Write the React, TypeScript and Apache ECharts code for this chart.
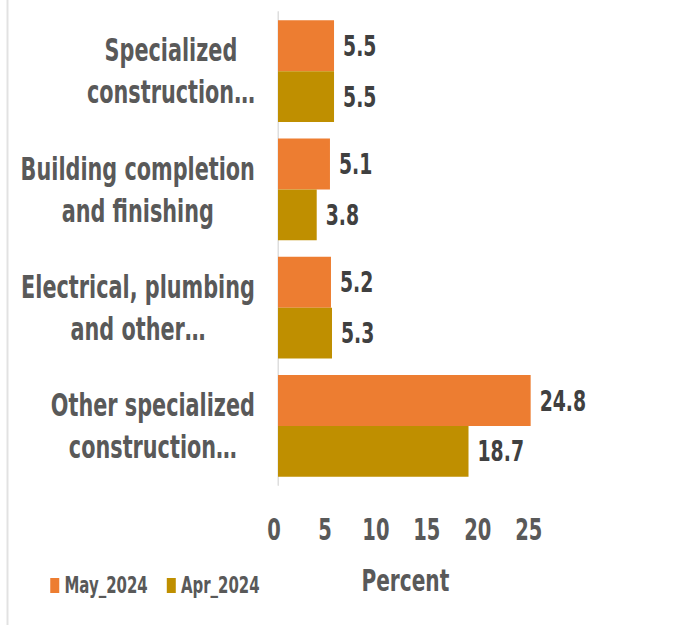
import React, { useEffect, useRef } from "react";
import * as echarts from "echarts";

const categories = [
  "Specialized\nconstruction…",
  "Building completion\nand finishing",
  "Electrical, plumbing\nand other…",
  "Other specialized\nconstruction…",
];
const may2024 = [5.5, 5.1, 5.2, 24.8];
const apr2024 = [5.5, 3.8, 5.3, 18.7];
const seriesNames = ["May_2024", "Apr_2024"];
const xTicks = { min: 0, max: 25, interval: 5 };

// The reference is rendered horizontally compressed; draw wide and squeeze.
const S = 0.65;
const PAGE_W = 688;
const PAGE_H = 625;
const W = PAGE_W / S;
const ux = (x: number) => x / S;

const FONT = "'DejaVu Sans', sans-serif";

export default function App() {
  const ref = useRef<HTMLDivElement>(null);
  useEffect(() => {
    if (!ref.current) return;
    const chart = echarts.init(ref.current, null, { renderer: "svg" });
    const valueLabel = {
      show: true,
      position: "right",
      distance: ux(9),
      fontFamily: FONT,
      fontSize: 29,
      fontWeight: "bold",
      color: "#404040",
    };
    chart.setOption({
      animation: false,
      backgroundColor: "#ffffff",
      grid: {
        left: ux(278),
        right: W - ux(533),
        top: 12,
        height: 473,
        containLabel: false,
        outerBoundsMode: "none",
      },
      legend: {
        data: seriesNames,
        left: ux(47),
        top: 569,
        icon: "rect",
        itemWidth: ux(9),
        itemHeight: 15,
        itemGap: ux(19),
        textStyle: {
          fontFamily: FONT,
          fontSize: 23,
          fontWeight: "bold",
          color: "#595959",
          padding: [0, 0, 0, 3],
        },
      },
      xAxis: {
        type: "value",
        min: xTicks.min,
        max: xTicks.max,
        interval: xTicks.interval,
        name: "Percent",
        nameLocation: "middle",
        nameGap: 80,
        nameTextStyle: { fontFamily: FONT, fontSize: 31, fontWeight: "bold", color: "#595959" },
        axisLine: { show: false },
        axisTick: { show: false },
        splitLine: { show: false },
        axisLabel: {
          fontFamily: FONT,
          fontSize: 30,
          fontWeight: "bold",
          color: "#595959",
          margin: 30,
          padding: [0, ux(8), 0, 0],
        },
      },
      yAxis: {
        type: "category",
        data: categories,
        inverse: true,
        axisLine: { show: true, lineStyle: { color: "#d9d9d9", width: 2 } },
        axisTick: { show: false },
        axisLabel: {
          margin: ux(23),
          formatter: (v: string) =>
            v
              .split("\n")
              .map((l) => `{a|${l}}`)
              .join("\n"),
          rich: {
            a: {
              fontFamily: FONT,
              fontSize: 32,
              fontWeight: "bold",
              color: "#595959",
              align: "center",
              lineHeight: 42,
            },
          },
        },
      },
      series: [
        {
          name: seriesNames[0],
          type: "bar",
          data: may2024,
          barGap: "0%",
          barCategoryGap: "14%",
          itemStyle: { color: "#ED7D31" },
          label: valueLabel,
        },
        {
          name: seriesNames[1],
          type: "bar",
          data: apr2024,
          barGap: "0%",
          barCategoryGap: "14%",
          itemStyle: { color: "#BF8F00" },
          label: valueLabel,
        },
      ],
      graphic: [
        {
          type: "line",
          shape: { x1: ux(7.5), y1: 0, x2: ux(7.5), y2: PAGE_H },
          style: { stroke: "#e2e2e2", lineWidth: 3 },
          silent: true,
        },
      ],
    });
    return () => chart.dispose();
  }, []);
  return (
    <div
      style={{
        position: "absolute",
        left: 0,
        top: 0,
        width: PAGE_W,
        height: PAGE_H,
        overflow: "hidden",
      }}
    >
      <div
        ref={ref}
        style={{
          width: W,
          height: PAGE_H,
          transform: `scaleX(${S})`,
          transformOrigin: "0 0",
        }}
      />
    </div>
  );
}
